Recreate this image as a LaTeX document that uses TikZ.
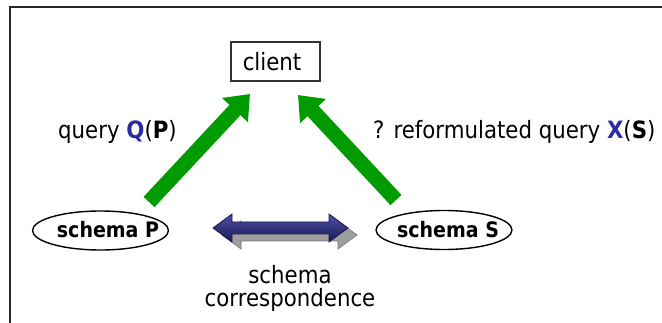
\documentclass[tikz,border=0pt]{standalone}
\usepackage{fontspec}
\setmainfont{DejaVu Sans}
\usetikzlibrary{arrows.meta,shapes.geometric}
\definecolor{garrowc}{RGB}{0,155,0}
\definecolor{navylight}{RGB}{80,80,165}
\definecolor{navydark}{RGB}{25,25,85}
\definecolor{qblue}{RGB}{45,45,160}
\newcommand{\vstretch}[1]{\scalebox{1}[1.12]{#1}}
\tikzset{
  txt/.style={font=\fontsize{21.3}{25}\selectfont, inner sep=0pt},
  btxt/.style={font=\fontsize{19}{23}\selectfont\bfseries, inner sep=0pt},
  schemaell/.style={ellipse, draw, line width=1.4pt, minimum width=136pt, minimum height=39pt, inner sep=0pt},
  garrow/.style={draw=garrowc, line width=15pt, -{Triangle[width=34pt,length=22pt]}, color=garrowc},
  frameline/.style={line width=1.4pt, black!85},
}
\begin{document}
\begin{tikzpicture}[x=1pt,y=-1pt]
\useasboundingbox (0,0) rectangle (662,323);
\fill[white] (0,0) rectangle (662,323);
% frame
\draw[frameline] (9.8,323) -- (9.8,7.2) -- (662,7.2);
% client
\node[draw, line width=1.2pt, black!80, minimum width=89pt, minimum height=39pt, inner sep=0pt] (client) at (275.5,61.5) {};
\node[txt] (clientt) at (272,62) {\vstretch{client}};
% schemas
\node[schemaell] (P) at (100.5,230.5) {};
\node[btxt] (Pt) at (108,230) {\vstretch{schema P}};
\node[schemaell] (S) at (444,230) {};
\node[btxt] (St) at (448,230) {\vstretch{schema S}};
% green arrows
\coordinate (pbase) at (149,202);
\coordinate (ptip) at (250,94);
\coordinate (sbase) at (396,200);
\coordinate (stip) at (298,95);
\draw[garrow] (pbase) -- (ptip);
\draw[garrow] (sbase) -- (stip);
% labels
\node[txt] (ql) at (117.5,132) {\vstretch{query \textbf{\color{qblue}Q}(\textbf{P})}};
\node[txt, anchor=west] (xl) at (373,132) {\vstretch{? reformulated query \textbf{\color{qblue}X}(\textbf{S})}};
% double arrow with shadow
\begin{scope}[shift={(9,7)}]
\fill[gray!75, draw=gray!90!black, line width=0.6pt] (213,228) -- (232,214) -- (232,222) -- (329,222) -- (329,214) -- (348,228) -- (329,242) -- (329,234) -- (232,234) -- (232,242) -- cycle;
\end{scope}
\shade[top color=navylight, bottom color=navydark, draw=navydark, line width=0.8pt] (213,228) -- (232,214) -- (232,222) -- (329,222) -- (329,214) -- (348,228) -- (329,242) -- (329,234) -- (232,234) -- (232,242) -- cycle;
\node[txt] (corr1) at (290,275) {\vstretch{schema}};
\node[txt] (corr2) at (290,300) {\vstretch{correspondence}};
\end{tikzpicture}
\end{document}
